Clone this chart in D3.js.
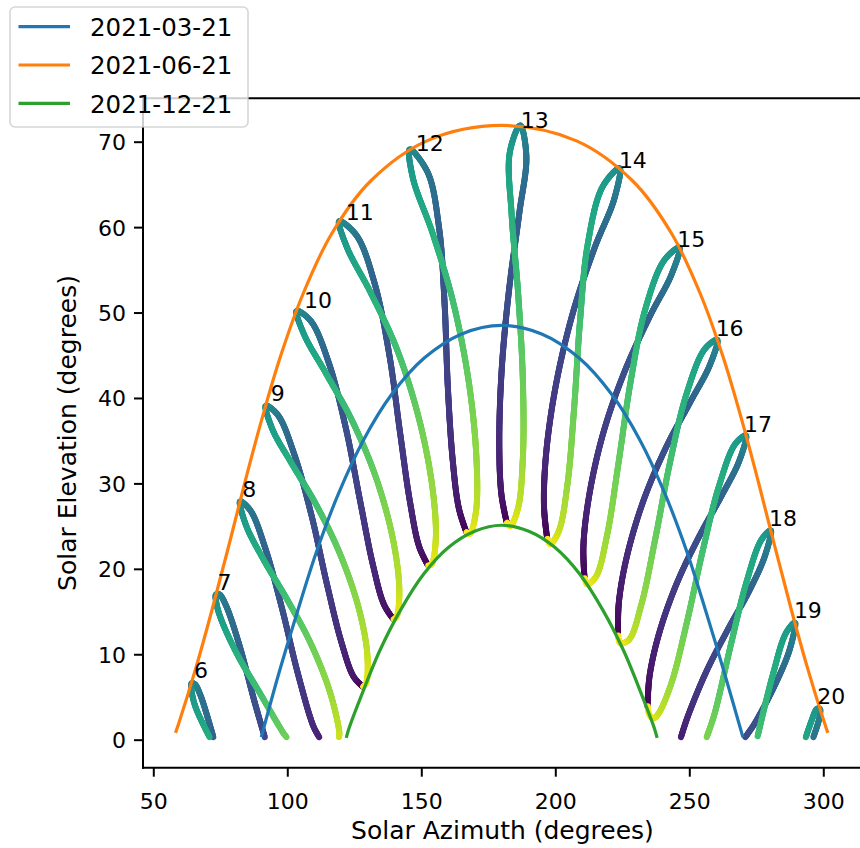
<!DOCTYPE html>
<html><head><meta charset="utf-8">
<script src="https://cdn.jsdelivr.net/npm/d3@7"></script>
<style>body{margin:0;background:#fff} text{font-family:"DejaVu Sans",sans-serif;fill:#000}</style>
</head><body><svg id="c" width="860" height="848"></svg>
<script>
// ---------------- data ----------------
const xTicks = [50, 100, 150, 200, 250, 300];
const yTicks = [0, 10, 20, 30, 40, 50, 60, 70];
const legendLabels = ["2021-03-21", "2021-06-21", "2021-12-21"];

// analemma points: [azimuth, elevation, day of year]
const analemma06 = [[72.4,0.3,114],[67.6,5.2,140],[65.5,6.5,156],[64.3,6.6,172],[64.4,5.5,188],[65.9,3.7,203],[71.0,0.3,227]];
const analemma07 = [[91.6,0.3,76],[87.9,4.3,91],[82.0,11.2,115],[77.0,15.8,140],[74.7,17.0,156],[73.4,17.0,172],[73.6,15.9,188],[75.3,14.1,203],[81.3,10.0,230],[89.5,5.6,255],[98.5,0.8,281],[99.7,0.3,285]];
const analemma08 = [[111.9,0.3,33],[109.7,1.6,43],[103.9,7.8,67],[98.0,15.4,91],[91.8,22.4,115],[86.3,26.8,140],[82.4,27.9,172],[84.6,25.1,203],[91.1,21.1,230],[99.6,16.6,255],[108.7,11.3,281],[115.9,5.6,307],[119.4,0.9,331],[119.3,0.3,338]];
const analemma09 = [[128.2,6.2,1],[124.7,7.4,22],[120.2,11.4,43],[114.8,18.2,67],[109.0,26.3,91],[102.5,33.5,115],[96.5,38.0,140],[92.0,39.1,172],[94.5,36.3,203],[101.7,32.3,230],[110.8,27.5,255],[120.0,21.5,281],[126.9,15.1,307],[129.9,9.8,331],[129.4,6.6,355],[128.3,6.2,365]];
const analemma10 = [[139.6,14.1,1],[136.1,15.8,22],[132.0,20.4,43],[127.2,27.9,67],[121.9,36.4,91],[115.5,44.1,115],[108.8,49.0,140],[103.5,50.2,172],[106.3,47.4,203],[114.4,42.9,230],[124.1,37.4,255],[133.3,30.5,281],[139.6,23.2,307],[141.8,17.5,331],[140.8,14.4,355],[139.7,14.1,365]];
const analemma11 = [[152.5,20.4,1],[149.2,22.6,22],[145.8,27.8,43],[142.1,35.9,67],[138.1,45.0,91],[132.6,53.4,115],[125.9,59.0,140],[119.4,60.7,172],[122.3,57.6,203],[131.0,52.4,230],[140.8,45.8,255],[149.2,37.5,281],[154.2,29.4,307],[155.4,23.4,331],[153.8,20.5,355],[152.6,20.4,365]];
const analemma12 = [[166.8,24.3,1],[164.0,27.1,22],[161.7,32.8,43],[159.9,41.3,67],[158.7,51.0,91],[156.6,60.0,115],[152.4,66.4,140],[145.7,69.1,172],[146.9,65.7,203],[154.2,59.3,230],[161.9,51.2,255],[167.8,41.7,281],[170.6,32.8,307],[170.4,26.7,331],[168.1,24.1,355],[166.9,24.3,365]];
const analemma13 = [[181.9,25.4,1],[179.9,28.7,22],[179.1,34.7,43],[180.0,43.3,67],[182.8,52.8,91],[186.6,61.7,115],[189.2,68.3,140],[186.9,71.9,172],[183.0,68.7,203],[183.7,61.5,230],[186.1,52.4,255],[187.9,42.1,281],[187.9,33.0,307],[186.1,27.1,331],[183.2,25.0,355],[182.0,25.4,365]];
const analemma14 = [[197.0,23.5,1],[195.8,27.2,22],[196.5,33.2,43],[200.1,41.3,67],[206.5,49.9,91],[214.7,57.6,115],[222.0,63.3,140],[224.0,66.9,172],[217.6,64.7,203],[212.1,58.0,230],[209.2,48.9,255],[207.0,38.7,281],[204.5,29.8,307],[201.3,24.4,331],[198.1,22.9,355],[197.1,23.5,365]];
const analemma15 = [[210.9,18.9,1],[210.5,22.7,22],[212.6,28.5,43],[217.9,35.9,67],[226.0,43.2,91],[235.5,49.7,115],[243.3,54.4,140],[246.3,57.6,172],[240.6,56.1,203],[233.5,50.3,230],[228.1,41.9,255],[223.5,32.2,281],[219.3,23.9,307],[215.2,19.1,331],[211.9,18.2,355],[211.0,18.9,365]];
const analemma16 = [[223.4,12.2,1],[223.7,16.0,22],[226.6,21.3,43],[232.8,27.9,67],[241.3,34.2,91],[250.5,39.6,115],[257.6,43.8,140],[260.4,46.8,172],[255.7,45.7,203],[248.9,40.4,230],[242.9,32.6,255],[237.3,23.5,281],[232.1,15.8,307],[227.5,11.7,331],[224.2,11.3,355],[223.5,12.2,365]];
const analemma17 = [[234.4,3.9,1],[235.2,7.5,22],[238.7,12.4,43],[245.2,18.2,67],[253.7,23.8,91],[262.3,28.7,115],[268.6,32.6,140],[271.1,35.6,172],[267.1,34.6,203],[261.0,29.6,230],[255.0,22.1,255],[249.0,13.6,281],[243.2,6.5,307],[238.4,3.0,331],[236.6,2.5,342],[235.0,3.0,355],[234.5,3.9,365]];
const analemma18 = [[246.9,0.3,30],[249.3,2.6,43],[256.1,7.8,67],[264.4,12.9,91],[272.5,17.5,115],[278.2,21.5,140],[280.4,24.5,172],[276.9,23.4,203],[271.3,18.4,230],[265.5,11.1,255],[259.4,3.0,281],[256.5,0.3,293]];
const analemma19 = [[270.9,0.3,81],[274.4,1.9,91],[282.1,6.5,115],[287.5,10.6,140],[289.4,13.7,172],[286.1,12.5,203],[281.0,7.4,230],[275.5,0.4,255]];
const analemma20 = [[296.3,0.3,136],[298.5,2.5,156],[298.7,3.6,172],[297.6,3.6,188],[295.6,2.2,203],[293.5,0.3,215]];
const analemmas = [analemma06, analemma07, analemma08, analemma09, analemma10, analemma11, analemma12,
                   analemma13, analemma14, analemma15, analemma16, analemma17, analemma18, analemma19, analemma20];

// hour labels: [hour, azimuth, elevation]
const hourLabels = [[6,65.6,7.2],[7,74.3,17.5],[8,83.6,28.4],[9,94.2,39.6],[10,106.6,50.5],[11,122.2,60.8],[12,148.3,68.9],
  [13,187.5,71.6],[14,224.1,66.9],[15,245.9,57.7],[16,260.2,47.2],[17,270.8,36.0],[18,280.1,25.0],[19,289.4,14.2],[20,298.1,4.2]];

// sun paths for three dates: [azimuth, elevation]
const pathMar21 = [[90.3,0.3],[96.7,7.6],[103.6,14.8],[110.9,22.0],[119.1,28.8],[128.3,35.0],[138.9,40.4],[151.2,44.7],[165.1,47.5],[180.0,48.5],
  [194.9,47.5],[208.8,44.7],[221.1,40.4],[231.7,35.0],[240.9,28.8],[249.1,22.0],[256.4,14.8],[263.3,7.6],[270.0,0.3]];
const pathJun21 = [[58.3,0.8],[59.6,2.0],[65.9,8.4],[72.0,15.3],[78.0,22.5],[84.0,29.9],[90.4,37.4],[97.5,44.9],[105.9,52.2],[116.5,59.2],[131.1,65.4],[152.1,70.1],[180.0,71.9],
  [207.9,70.1],[228.9,65.4],[243.5,59.2],[254.1,52.2],[262.5,44.9],[269.6,37.4],[276.0,29.9],[282.0,22.5],[288.0,15.3],[294.1,8.4],[300.4,2.0],[301.7,0.8]];
const pathDec21 = [[122.0,0.2],[123.0,1.3],[127.2,4.8],[134.4,10.35],[142.3,15.2],[150.9,19.4],[160.1,22.5],[169.9,24.4],[180.0,25.1],
  [190.1,24.4],[199.9,22.5],[209.1,19.4],[217.7,15.2],[225.6,10.35],[232.8,4.8],[237.0,1.3],[238.0,0.2]];
const datePaths = [pathMar21, pathJun21, pathDec21];

// ---------------- drawing ----------------
const svg = d3.select("#c");
const L = 143, T = 98.3, B = 767.7, R = 862;
const x = d3.scaleLinear().domain([46.16, 314.5]).range([L, L + (314.5 - 46.16) * 2.68]);
const y = d3.scaleLinear().domain([-3.28, 75.08]).range([B, T]);

// scatter-like analemmas coloured by day of year
const gS = svg.append("g");
const curve = d3.line().x(d => x(d[0])).y(d => y(d[1])).curve(d3.curveCatmullRom.alpha(0.5));
let segs = [];
analemmas.forEach(pts => {
  const p = gS.append("path").attr("d", curve(pts)).attr("fill", "none");
  const node = p.node();
  const len = node.getTotalLength();
  const n = Math.max(2, Math.ceil(len / 1.2));
  const s = [];
  for (let i = 0; i <= n; i++) { const q = node.getPointAtLength(len * i / n); s.push([q.x, q.y]); }
  p.remove();
  const idx = [0]; let start = 0;
  for (let k = 1; k < pts.length - 1; k++) {
    const px = x(pts[k][0]), py = y(pts[k][1]);
    let best = start, bd = 1e12;
    for (let j = start; j <= n; j++) {
      const dx = s[j][0] - px, dy = s[j][1] - py, dd = dx * dx + dy * dy;
      if (dd < bd) { bd = dd; best = j; }
      if (bd < 4 && dd > bd + 36) break;
    }
    idx.push(best); start = best;
  }
  idx.push(n);
  let k = 0;
  for (let j = 0; j < n; j++) {
    while (k < idx.length - 2 && j >= idx[k + 1]) k++;
    const span = Math.max(1, idx[k + 1] - idx[k]);
    const t = Math.min(1, Math.max(0, (j + 0.5 - idx[k]) / span));
    const doy = pts[k][2] + t * (pts[k + 1][2] - pts[k][2]);
    segs.push({ a: s[j], b: s[j + 1], doy });
  }
});
segs.sort((a, b) => a.doy - b.doy);
const color = d3.scaleSequential(d3.interpolateViridis).domain([1, 365]);
gS.selectAll("line").data(segs).join("line")
  .attr("x1", d => d.a[0]).attr("y1", d => d.a[1])
  .attr("x2", d => d.b[0]).attr("y2", d => d.b[1])
  .attr("stroke", d => color(d.doy)).attr("stroke-width", 6).attr("stroke-linecap", "round");

// date lines
const lineColors = ["#1f77b4", "#ff7f0e", "#2ca02c"];
const dl = d3.line().x(d => x(d[0])).y(d => y(d[1])).curve(d3.curveCatmullRom.alpha(0.5));
svg.append("g").selectAll("path").data(datePaths).join("path")
  .attr("d", dl).attr("fill", "none").attr("stroke", (d, i) => lineColors[i]).attr("stroke-width", 3.2);

// hour labels
svg.append("g").selectAll("text").data(hourLabels).join("text")
  .attr("x", d => x(d[1]) - 1).attr("y", d => y(d[2]))
  .attr("font-size", 22).text(d => String(d[0]));

// axes
const gx = svg.append("g").attr("transform", `translate(0,${B})`)
  .call(d3.axisBottom(x).tickValues(xTicks).tickSize(9).tickPadding(0).tickFormat(d3.format("d")));
gx.select(".domain").remove();
gx.selectAll(".tick line").attr("stroke", "#000").attr("stroke-width", 2);
gx.selectAll(".tick text").attr("font-size", 22).attr("font-family", "DejaVu Sans").attr("fill", "#000")
  .attr("dy", null).attr("y", 41);

const gy = svg.append("g").attr("transform", `translate(${L},0)`)
  .call(d3.axisLeft(y).tickValues(yTicks).tickSize(9).tickPadding(0).tickFormat(d3.format("d")));
gy.select(".domain").remove();
gy.selectAll(".tick line").attr("stroke", "#000").attr("stroke-width", 2);
gy.selectAll(".tick text").attr("font-size", 22).attr("font-family", "DejaVu Sans").attr("fill", "#000")
  .attr("x", -17).attr("dy", "0.36em");

// spines
const sp = svg.append("g").attr("stroke", "#000").attr("stroke-width", 2).attr("stroke-linecap", "square");
sp.append("line").attr("x1", L).attr("x2", L).attr("y1", T).attr("y2", B);
sp.append("line").attr("x1", L).attr("x2", R).attr("y1", B).attr("y2", B);
sp.append("line").attr("x1", L).attr("x2", R).attr("y1", T).attr("y2", T);

// axis labels
svg.append("text").attr("x", (L + R) / 2).attr("y", 839).attr("text-anchor", "middle")
  .attr("font-size", 25).text("Solar Azimuth (degrees)");
svg.append("text").attr("transform", `translate(75.5,${(T + B) / 2}) rotate(-90)`).attr("text-anchor", "middle")
  .attr("font-size", 25).text("Solar Elevation (degrees)");

// legend
const lg = svg.append("g");
lg.append("rect").attr("x", 10).attr("y", 7).attr("width", 238).attr("height", 120).attr("rx", 5)
  .attr("fill", "#fff").attr("fill-opacity", 0.8).attr("stroke", "#cccccc").attr("stroke-opacity", 0.8).attr("stroke-width", 1.6);
legendLabels.forEach((lab, i) => {
  const yy = 26.7 + i * 38.3;
  lg.append("line").attr("x1", 18.5).attr("x2", 70).attr("y1", yy).attr("y2", yy)
    .attr("stroke", lineColors[i]).attr("stroke-width", 3.2);
  lg.append("text").attr("x", 90).attr("y", yy + 9.3).attr("font-size", 24.5).text(lab);
});
</script></body></html>
